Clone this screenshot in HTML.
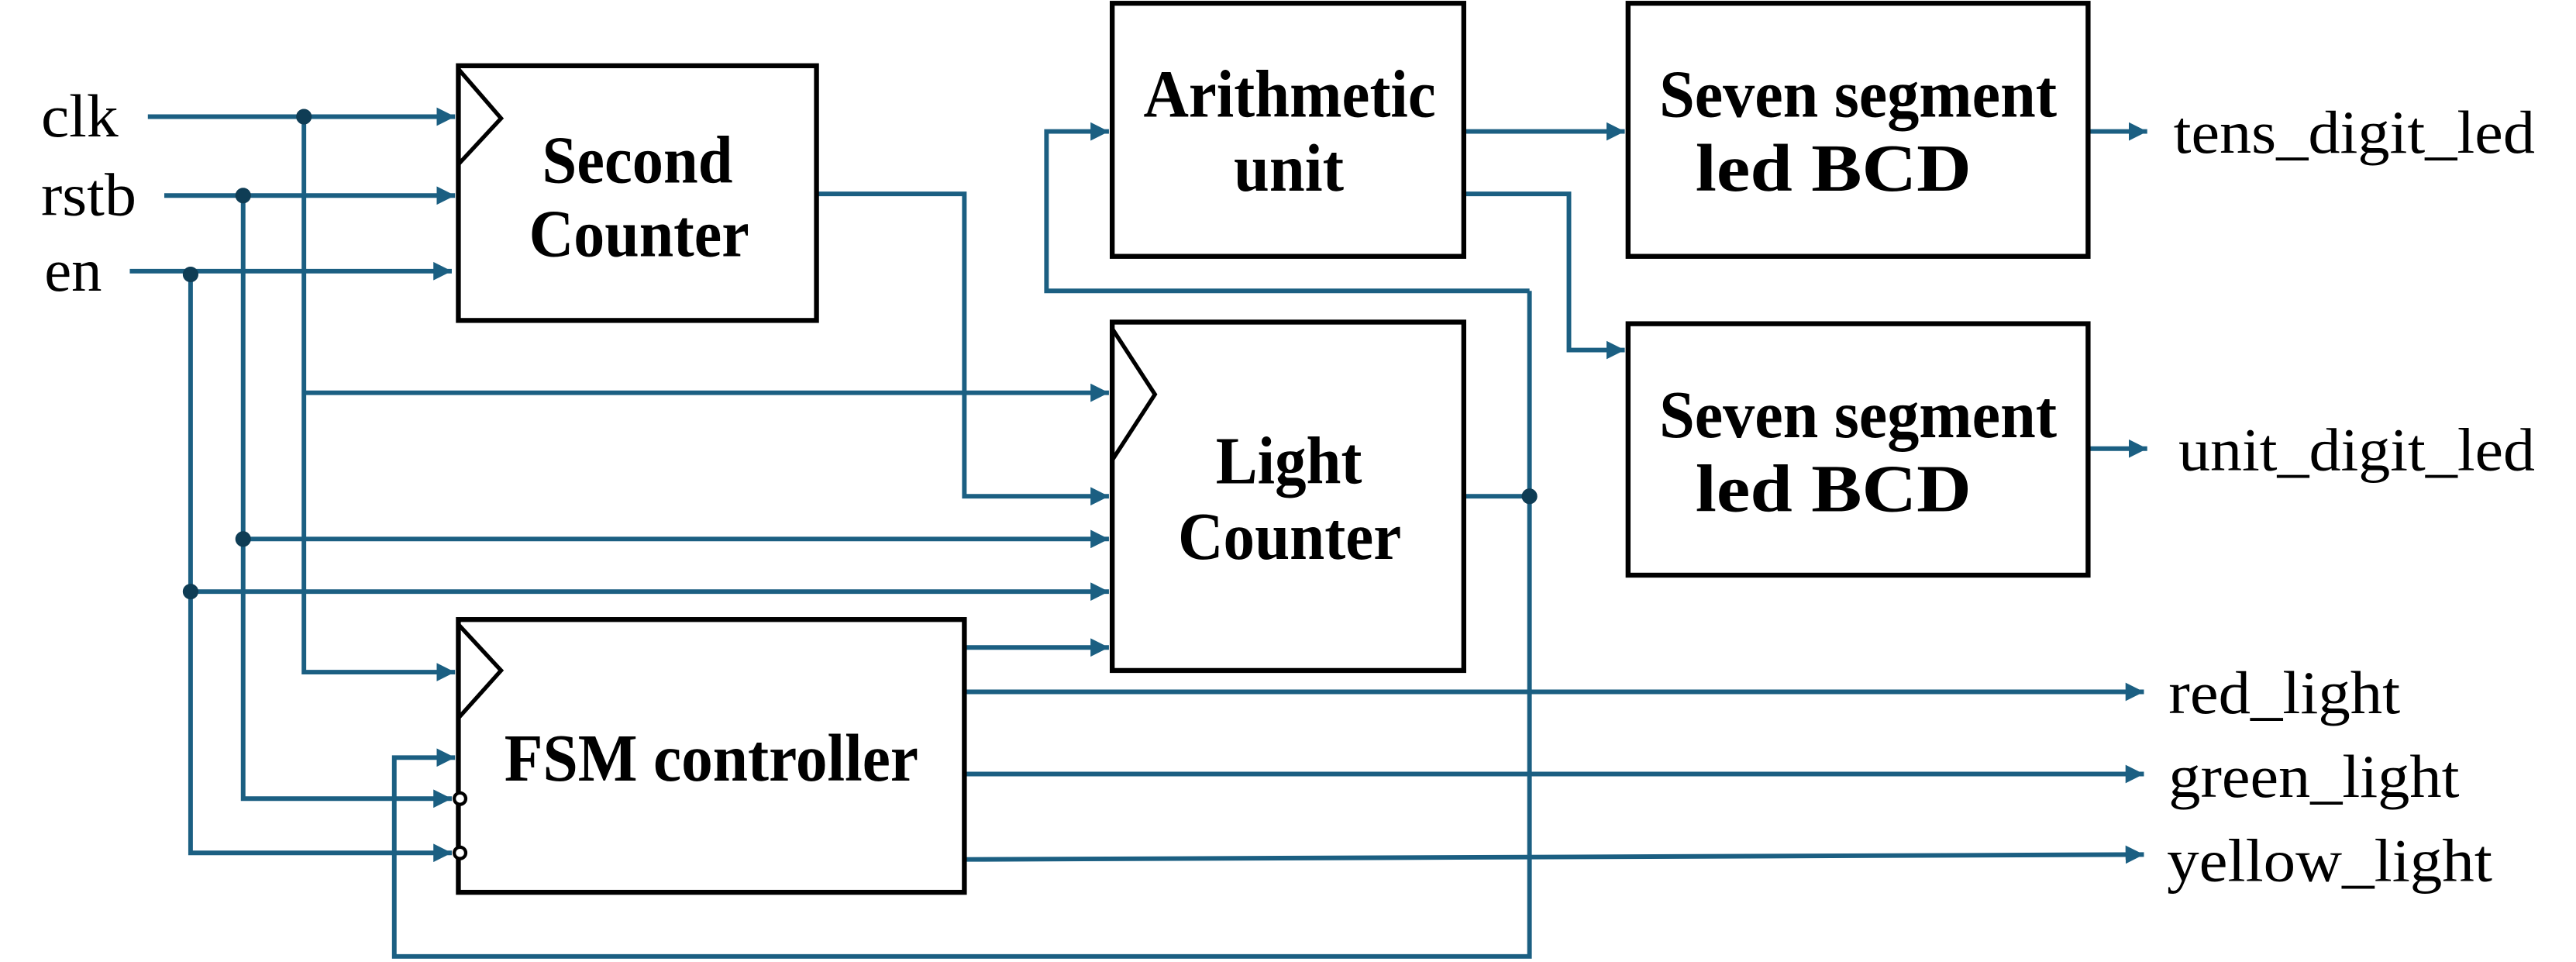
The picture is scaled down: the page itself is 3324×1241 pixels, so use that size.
<!DOCTYPE html>
<html><head><meta charset="utf-8"><style>
html,body{margin:0;padding:0;background:#fff}
svg{display:block}
</style></head><body>
<svg width="3324" height="1241" viewBox="0 0 1568 585.4" preserveAspectRatio="none" xmlns="http://www.w3.org/2000/svg">
<defs>
<marker id="a" viewBox="0 0 10 10" refX="10" refY="5" markerWidth="4" markerHeight="4" markerUnits="strokeWidth" orient="auto">
<path d="M0,0 L10,5 L0,10 z" fill="#1b5f82"/>
</marker>
</defs>
<g fill="none" stroke="#1b5f82" stroke-width="2.8">
<path d="M90,71 H277" marker-end="url(#a)"/>
<path d="M100,119 H277" marker-end="url(#a)"/>
<path d="M79,165 H275" marker-end="url(#a)"/>
<path d="M185,71 V409 H277" marker-end="url(#a)"/>
<path d="M185,239 H675" marker-end="url(#a)"/>
<path d="M148,119 V486 H275" marker-end="url(#a)"/>
<path d="M148,328 H675" marker-end="url(#a)"/>
<path d="M116,167 V519 H275" marker-end="url(#a)"/>
<path d="M116,360 H675" marker-end="url(#a)"/>
<path d="M497,118 H587 V302 H675" marker-end="url(#a)"/>
<path d="M587,394 H675" marker-end="url(#a)"/>
<path d="M587,421 H1305" marker-end="url(#a)"/>
<path d="M587,471 H1305" marker-end="url(#a)"/>
<path d="M587,523 L1305,520" marker-end="url(#a)"/>
<path d="M891,302 H931"/>
<path d="M931,177 V582 H240 V461 H277" marker-end="url(#a)"/>
<path d="M931,177 H637 V80 H675" marker-end="url(#a)"/>
<path d="M891,80 H989" marker-end="url(#a)"/>
<path d="M891,118 H955 V213 H989" marker-end="url(#a)"/>
<path d="M1271,80 H1307" marker-end="url(#a)"/>
<path d="M1271,273 H1307" marker-end="url(#a)"/>
</g>
<g fill="#0f3d55" stroke="#0f3d55" stroke-width="1.5">
<circle cx="185" cy="71" r="4"/>
<circle cx="148" cy="119" r="4"/>
<circle cx="116" cy="167" r="4"/>
<circle cx="148" cy="328" r="4"/>
<circle cx="116" cy="360" r="4"/>
<circle cx="931" cy="302" r="4"/>
</g>
<g fill="#fff" stroke="#000" stroke-width="3">
<rect x="279" y="40" width="218" height="155"/>
<rect x="677" y="196" width="214" height="212"/>
<rect x="279" y="377" width="308" height="166"/>
<rect x="677" y="2" width="214" height="154"/>
<rect x="991" y="2" width="280" height="154"/>
<rect x="991" y="197" width="280" height="153"/>
</g>
<g fill="none" stroke="#000" stroke-width="2.5">
<path d="M279,42 L305,72 L279,100"/>
<path d="M677,200 L703,240 L677,280"/>
<path d="M279,380 L305,408 L279,437"/>
</g>
<g fill="#fff" stroke="#000" stroke-width="2">
<circle cx="280" cy="486" r="3.5"/>
<circle cx="280" cy="519" r="3.5"/>
</g>
<g font-family="'Liberation Serif',serif" font-weight="bold" font-size="41" fill="#000">
<text x="330" y="111" textLength="116" lengthAdjust="spacingAndGlyphs">Second</text>
<text x="322" y="156" textLength="134" lengthAdjust="spacingAndGlyphs">Counter</text>
<text x="696" y="71" textLength="178" lengthAdjust="spacingAndGlyphs">Arithmetic</text>
<text x="751" y="116" textLength="67" lengthAdjust="spacingAndGlyphs">unit</text>
<text x="1010" y="71" textLength="242" lengthAdjust="spacingAndGlyphs">Seven segment</text>
<text x="1032" y="116" textLength="168" lengthAdjust="spacingAndGlyphs">led BCD</text>
<text x="1010" y="266" textLength="242" lengthAdjust="spacingAndGlyphs">Seven segment</text>
<text x="1032" y="311" textLength="168" lengthAdjust="spacingAndGlyphs">led BCD</text>
<text x="740" y="294" textLength="89" lengthAdjust="spacingAndGlyphs">Light</text>
<text x="717" y="340" textLength="136" lengthAdjust="spacingAndGlyphs">Counter</text>
<text x="307" y="475" textLength="252" lengthAdjust="spacingAndGlyphs">FSM controller</text>
</g>
<g font-family="'Liberation Serif',serif" font-size="37" fill="#000">
<text x="25" y="83" textLength="47" lengthAdjust="spacingAndGlyphs">clk</text>
<text x="25" y="131" textLength="58" lengthAdjust="spacingAndGlyphs">rstb</text>
<text x="27" y="177" textLength="35" lengthAdjust="spacingAndGlyphs">en</text>
<text x="1323" y="93" textLength="220" lengthAdjust="spacingAndGlyphs">tens_digit_led</text>
<text x="1326" y="286" textLength="217" lengthAdjust="spacingAndGlyphs">unit_digit_led</text>
<text x="1320" y="434" textLength="141" lengthAdjust="spacingAndGlyphs">red_light</text>
<text x="1320" y="485" textLength="177" lengthAdjust="spacingAndGlyphs">green_light</text>
<text x="1319" y="536" textLength="198" lengthAdjust="spacingAndGlyphs">yellow_light</text>
</g>
</svg>
</body></html>
